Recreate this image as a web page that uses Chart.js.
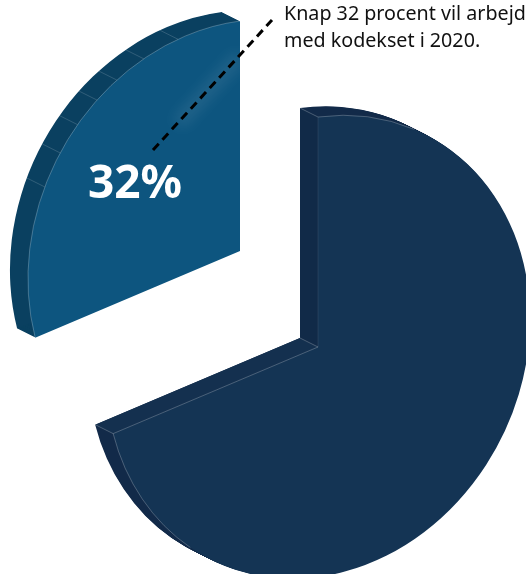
<!DOCTYPE html>
<html lang="da">
<head>
<meta charset="utf-8">
<title>Kodekset 2020</title>
<script src="https://cdn.jsdelivr.net/npm/chart.js@4"></script>
<style>
  html, body { margin: 0; padding: 0; background: #fff; }
  #wrap { position: relative; width: 526px; height: 574px; overflow: hidden; }
  canvas { position: absolute; left: 0; top: 0; }
  #caption {
    position: absolute; left: 284px; top: 0; white-space: nowrap;
    font: 19.7px/26.5px "Noto Sans", sans-serif; color: #111;
  }
</style>
</head>
<body>
<div id="wrap">
  <canvas id="pie" width="526" height="574"></canvas>
  <div id="caption">Knap 32 procent vil arbejde<br>med kodekset i 2020.</div>
</div>
<script>
const categories = ["Øvrige", "Arbejder med kodekset"];
const sliceValues = [68, 32];
const faceColors = ["#143454", "#0d557f"];
const rimColors = ["#122a49", "#0a4060"];

const SCALE_X = 0.922;   // the flat pie is squeezed and sheared into its isometric view
const SHEAR_Y = -0.122;
const DEPTH = { x: -18, y: -9 };
const SEAM_SHIFT = (10.2 * Math.PI) / 180;  // artwork's foreshortening moves the seam a bit
const SMALL_APEX = { x: 240, y: 251 };
const rimDividers = [343, 333, 324.5, 317.6, 310, 302, 293];
const EDGE = "rgba(255,255,255,0.3)";

function foreshorten(ctx, el) {
  ctx.translate(el.x, el.y);
  ctx.transform(SCALE_X, SHEAR_Y, 0, 1, 0, 0);
  ctx.translate(-el.x, -el.y);
}

function sectorPath(ctx, el, dx = 0, dy = 0) {
  ctx.save();
  ctx.translate(dx, dy);
  foreshorten(ctx, el);
  ctx.beginPath();
  ctx.moveTo(el.x, el.y);
  ctx.arc(el.x, el.y, el.outerRadius, el.startAngle, el.endAngle);
  ctx.closePath();
  ctx.restore();
}

// deg is measured clockwise from the top of the pie
function rimPoint(el, deg) {
  const a = (deg * Math.PI) / 180;
  const dx = el.outerRadius * Math.sin(a);
  return {
    x: el.x + SCALE_X * dx,
    y: el.y - el.outerRadius * Math.cos(a) + SHEAR_Y * dx,
  };
}

function polygon(ctx, pts, fill) {
  ctx.beginPath();
  pts.forEach((p, i) => (i ? ctx.lineTo(p.x, p.y) : ctx.moveTo(p.x, p.y)));
  ctx.closePath();
  ctx.fillStyle = fill;
  ctx.fill();
}

function line(ctx, a, b, color) {
  ctx.beginPath();
  ctx.moveTo(a.x, a.y);
  ctx.lineTo(b.x, b.y);
  ctx.strokeStyle = color;
  ctx.lineWidth = 0.8;
  ctx.stroke();
}

function rimStroke(ctx, el, fromDeg, toDeg) {
  ctx.save();
  foreshorten(ctx, el);
  ctx.beginPath();
  ctx.arc(el.x, el.y, el.outerRadius, (fromDeg - 90) * Math.PI / 180, (toDeg - 90) * Math.PI / 180);
  ctx.restore();
  ctx.strokeStyle = EDGE;
  ctx.lineWidth = 0.8;
  ctx.stroke();
}

const back = (p) => ({ x: p.x + DEPTH.x, y: p.y + DEPTH.y });

const isoPie = {
  id: "isoPie",
  afterDatasetsUpdate(chart) {
    const [large, small] = chart.getDatasetMeta(0).data;
    large.endAngle += SEAM_SHIFT;
    large.circumference += SEAM_SHIFT;
    small.startAngle += SEAM_SHIFT;
    small.circumference -= SEAM_SHIFT;
    small.x = SMALL_APEX.x;
    small.y = SMALL_APEX.y;
  },
  beforeDatasetDraw(chart, args) {
    const { ctx } = chart;
    const [large, small] = args.meta.data;

    // rim: sweep the sector backwards along the depth
    [large, small].forEach((el, i) => {
      ctx.fillStyle = rimColors[i];
      for (let t = 1; t <= 18; t++) {
        sectorPath(ctx, el, (DEPTH.x * t) / 18, (DEPTH.y * t) / 18);
        ctx.fill();
      }
    });

    // cut faces of the large slice
    const apex = { x: large.x, y: large.y };
    const top = rimPoint(large, 0);
    const end = rimPoint(large, (large.endAngle + Math.PI / 2) * 180 / Math.PI);
    polygon(ctx, [back(apex), apex, end, back(end)], "#14304f");
    polygon(ctx, [back(top), top, apex, back(apex)], "#112a48");

    [large, small].forEach((el) => {
      ctx.save();
      foreshorten(ctx, el);
      el.draw(ctx);
      ctx.restore();
    });

    // highlight under the leader line
    ctx.save();
    sectorPath(ctx, small);
    ctx.clip();
    ctx.filter = "blur(7px)";
    ctx.beginPath();
    ctx.moveTo(178, 124);
    ctx.lineTo(240, 56);
    ctx.strokeStyle = "rgba(255,255,255,0.09)";
    ctx.lineWidth = 13;
    ctx.stroke();
    ctx.restore();

    // thin edges
    const smallEnd = (small.startAngle + Math.PI / 2) * 180 / Math.PI;
    rimStroke(ctx, small, smallEnd, 360);
    rimDividers.forEach((d) => {
      const p = rimPoint(small, d);
      line(ctx, p, back(p), "rgba(255,255,255,0.2)");
    });
    rimStroke(ctx, large, 0, 27);
    rimStroke(ctx, large, 217, (large.endAngle + Math.PI / 2) * 180 / Math.PI);
    line(ctx, apex, end, EDGE);
    line(ctx, top, apex, "rgba(255,255,255,0.1)");
    line(ctx, back(top), top, EDGE);
    line(ctx, back(apex), apex, EDGE);
    line(ctx, back(end), end, EDGE);
    return false;
  },
  afterDatasetsDraw(chart) {
    const { ctx } = chart;
    ctx.save();
    ctx.beginPath();
    ctx.moveTo(153, 150);
    ctx.lineTo(272, 20);
    ctx.setLineDash([8.5, 5.5]);
    ctx.lineWidth = 3;
    ctx.strokeStyle = "#000";
    ctx.stroke();
    ctx.restore();

    ctx.save();
    ctx.font = '700 46px "Noto Sans", sans-serif';
    ctx.fillStyle = "#fff";
    ctx.textAlign = "center";
    ctx.textBaseline = "alphabetic";
    ctx.fillText(`${sliceValues[1]}%`, 135, 198);
    ctx.restore();
  },
};

new Chart(document.getElementById("pie"), {
  type: "pie",
  data: {
    labels: categories,
    datasets: [{ data: sliceValues, backgroundColor: faceColors, borderWidth: 0, clip: false }],
  },
  options: {
    responsive: false,
    animation: false,
    radius: 230,
    layout: { padding: { left: 110, top: 120 } },
    plugins: { legend: { display: false }, tooltip: { enabled: false } },
    events: [],
  },
  plugins: [isoPie],
});
</script>
</body>
</html>
